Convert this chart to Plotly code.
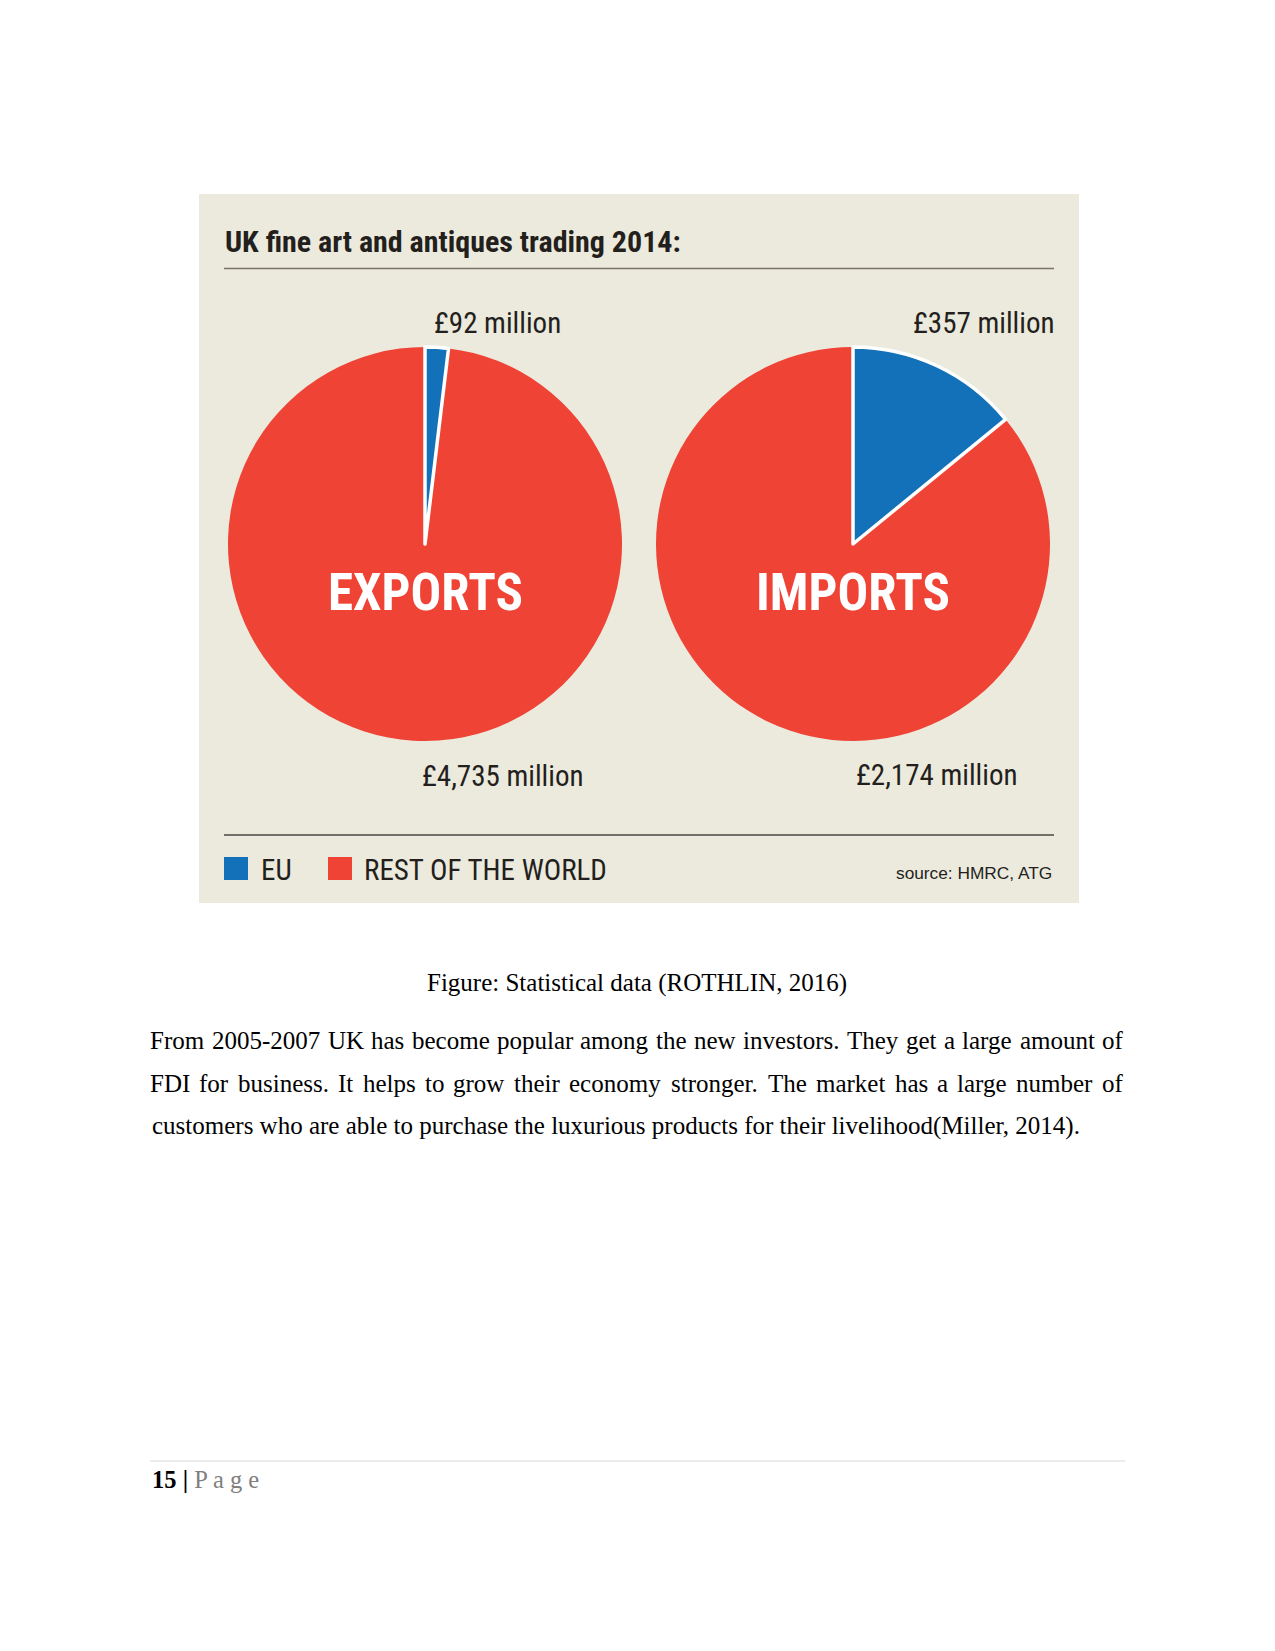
import plotly.graph_objects as go

# ---- data ----
regions = ["EU", "REST OF THE WORLD"]
exports_m = [92, 4735]      # £ million: EU, rest of the world
imports_m = [357, 2174]
pie_names = ["EXPORTS", "IMPORTS"]
title_text = "UK fine art and antiques trading 2014:"
source_text = "source: HMRC, ATG"
caption = "Figure: Statistical data (ROTHLIN, 2016)"
para_lines = [
    "From 2005-2007 UK has become popular among the new investors. They get a large amount of",
    "FDI for business. It helps to grow their economy stronger. The market has a large number of",
    "customers who are able to purchase the luxurious products for their livelihood(Miller, 2014).",
]
para_justified = [True, True, False]
page_no = "15"

# ---- style ----
W, H = 1275, 1651
BLUE = "#1371B9"
RED = "#EE4335"
CREAM = "#ECE9DD"
INK = "#231F1C"
NARROW = "Liberation Sans Narrow, Roboto Condensed, DejaVu Sans Condensed, Roboto, sans-serif"
SERIF = "Liberation Serif, Times New Roman, serif"
BODY_SIZE = 25
TEXT_L, TEXT_R = 150, 1123

# approximate Times advance widths (per 1000 em) used only to justify lines
_TW = {" ": 250, "a": 444, "b": 500, "c": 444, "d": 500, "e": 444, "f": 333, "g": 500,
       "h": 500, "i": 278, "j": 278, "k": 500, "l": 278, "m": 778, "n": 500, "o": 500,
       "p": 500, "q": 500, "r": 333, "s": 389, "t": 278, "u": 500, "v": 500, "w": 722,
       "x": 500, "y": 500, "z": 444, "A": 722, "B": 667, "C": 667, "D": 722, "E": 611,
       "F": 556, "G": 722, "H": 722, "I": 333, "J": 389, "K": 722, "L": 611, "M": 889,
       "N": 722, "O": 722, "P": 556, "Q": 722, "R": 667, "S": 556, "T": 611, "U": 722,
       "V": 722, "W": 944, "X": 722, "Y": 722, "Z": 611, ".": 250, ",": 250, "-": 333,
       "(": 333, ")": 333, ":": 278}


def text_w(s, size):
    return sum(_TW.get(c, 500) for c in s) * size / 1000.0 * 1.005


fig = go.Figure()


def px_dom(x0, x1, y0, y1):
    return dict(x=[x0 / W, x1 / W], y=[1 - y1 / H, 1 - y0 / H])


pie_boxes = [(228, 622, 347, 741), (656, 1050, 347, 741)]
for vals, box, name in zip([exports_m, imports_m], pie_boxes, pie_names):
    eu, row = vals
    fig.add_trace(go.Pie(
        labels=[regions[1], regions[0]],
        values=[row, eu],
        sort=False,
        direction="clockwise",
        rotation=360.0 * eu / (eu + row),
        marker=dict(colors=[RED, BLUE],
                    line=dict(color=[RED, "white"], width=[0, 3.5])),
        textinfo="none",
        hoverinfo="label+value",
        showlegend=False,
        domain=px_dom(*box),
        name=name,
    ))

shapes = [
    dict(type="rect", x0=199, x1=1079, y0=194, y1=903, fillcolor=CREAM,
         line=dict(width=0), layer="below"),
    dict(type="line", x0=224, x1=1054, y0=268.5, y1=268.5, line=dict(color="#77746a", width=1.3)),
    dict(type="line", x0=224, x1=1054, y0=835, y1=835, line=dict(color="#4a4740", width=1.3)),
    dict(type="rect", x0=224, x1=248, y0=857, y1=880, fillcolor=BLUE, line=dict(width=0)),
    dict(type="rect", x0=328, x1=352, y0=857, y1=880, fillcolor=RED, line=dict(width=0)),
    dict(type="line", x0=150, x1=1125, y0=1461, y1=1461, line=dict(color="#d9d9d9", width=1)),
]


def ann(x, y, text, size, family, color=INK, xanchor="left", yanchor="middle"):
    return dict(x=x, y=y, xref="x", yref="y", text=text, showarrow=False,
                xanchor=xanchor, yanchor=yanchor,
                font=dict(size=size, family=family, color=color))


def fmt(v):
    return "£{:,} million".format(v)


annotations = [
    ann(223, 241, "<b>" + title_text + "</b>", 30, NARROW),
    ann(497, 323, fmt(exports_m[0]), 29, NARROW, xanchor="center"),
    ann(984, 323, fmt(imports_m[0]), 29, NARROW, xanchor="center"),
    ann(503, 776, fmt(exports_m[1]), 29, NARROW, xanchor="center"),
    ann(937, 775, fmt(imports_m[1]), 29, NARROW, xanchor="center"),
    ann(425, 592, "<b>" + pie_names[0] + "</b>", 51, NARROW, color="white", xanchor="center"),
    ann(853, 592, "<b>" + pie_names[1] + "</b>", 51, NARROW, color="white", xanchor="center"),
    ann(259, 870, regions[0], 29, NARROW),
    ann(362, 870, regions[1], 29, NARROW),
    ann(1054, 873, source_text, 17.3, "Liberation Sans, Arial, sans-serif", xanchor="right"),
    ann(637, 983, caption, BODY_SIZE, SERIF, color="black", xanchor="center"),
]

for i, (line, just) in enumerate(zip(para_lines, para_justified)):
    y = 1040 + i * 43.2
    if not just:
        annotations.append(ann(TEXT_L, y, line, BODY_SIZE, SERIF, color="black"))
        continue
    words = line.split(" ")
    n = len(words)
    widths = [text_w(w, BODY_SIZE) for w in words]
    gap = (TEXT_R - TEXT_L - sum(widths)) / (n - 1)
    for j, w in enumerate(words):
        x_mid = TEXT_L + sum(widths[:j]) + j * gap + widths[j] / 2
        annotations.append(ann(x_mid, y, w, BODY_SIZE, SERIF, color="black",
                               xanchor="center"))

annotations.append(ann(150, 1479,
                       "<b>" + page_no + " |</b> <span style='color:#7f7f7f'>P a g e</span>",
                       24.5, SERIF, color="black"))

fig.update_layout(
    width=W, height=H,
    margin=dict(l=0, r=0, t=0, b=0),
    paper_bgcolor="white", plot_bgcolor="white",
    xaxis=dict(range=[0, W], visible=False, domain=[0, 1]),
    yaxis=dict(range=[H, 0], visible=False, domain=[0, 1]),
    shapes=shapes,
    annotations=annotations,
)

fig.write_html("out.html", config={"displayModeBar": False},
               post_script="document.body.style.margin='0';")
